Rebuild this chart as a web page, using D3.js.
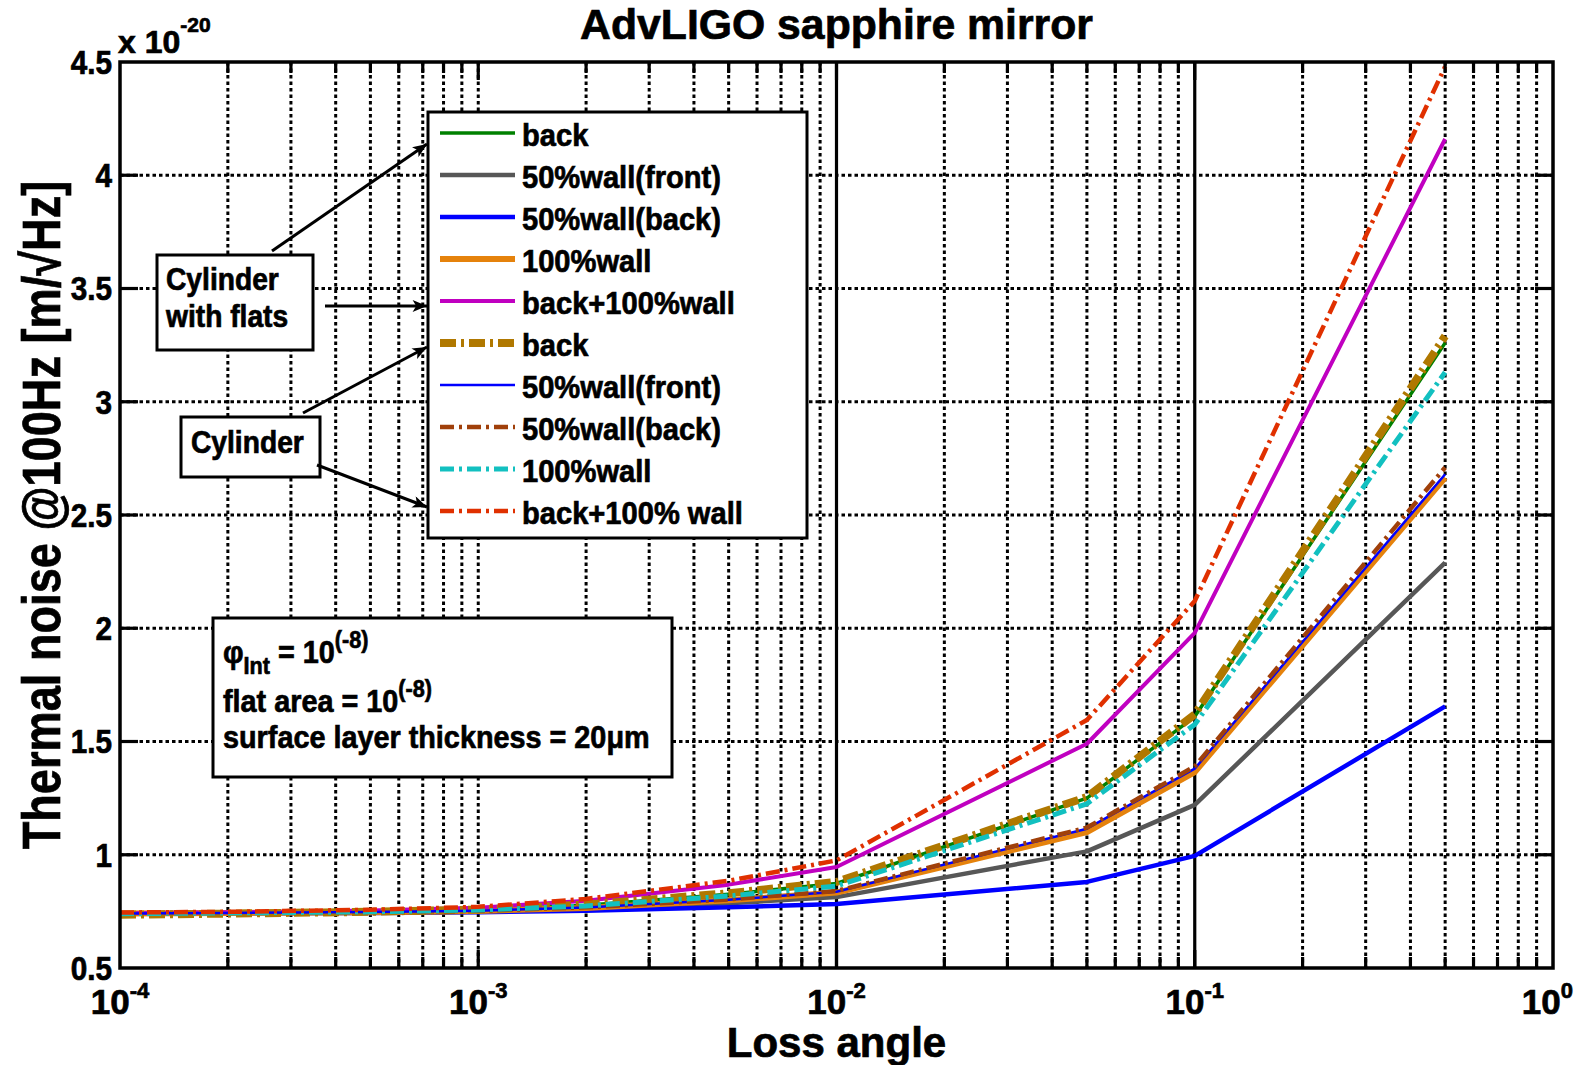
<!DOCTYPE html>
<html>
<head>
<meta charset="utf-8">
<title>AdvLIGO sapphire mirror</title>
<script src="https://cdn.jsdelivr.net/npm/d3@7"></script>
<style>
  html, body { margin: 0; padding: 0; background: #fff; }
  svg { display: block; font-family: "Liberation Sans", Arial, Helvetica, sans-serif; font-weight: bold; }
  svg text { stroke: #000; stroke-width: 0.7px; paint-order: stroke; }
</style>
</head>
<body>
<svg id="chart" width="1577" height="1065"></svg>
<script>
// Loss angle sample points shared by every curve
const lossAngle = [1e-4, 2e-4, 5e-4, 1e-3, 2e-3, 5e-3, 1e-2, 5e-2, 1e-1, 5e-1];

// Thermal noise @100Hz, units of 1e-20 m/√Hz — cylinder with flats
const flatsBack        = [0.742, 0.744, 0.749, 0.757, 0.777, 0.826, 0.873, 1.250, 1.610, 3.260];
const flats50WallFront = [0.741, 0.742, 0.745, 0.749, 0.760, 0.786, 0.813, 1.015, 1.220, 2.290];
const flats50WallBack  = [0.740, 0.741, 0.743, 0.746, 0.753, 0.768, 0.783, 0.880, 0.995, 1.655];
const flats100Wall     = [0.741, 0.743, 0.746, 0.752, 0.765, 0.799, 0.833, 1.100, 1.365, 2.665];
const flatsBack100Wall = [0.742, 0.746, 0.754, 0.766, 0.797, 0.868, 0.946, 1.490, 1.980, 4.160];

// Thermal noise @100Hz — plain cylinder
const cylBack          = [0.735, 0.740, 0.748, 0.758, 0.780, 0.830, 0.880, 1.255, 1.620, 3.290];
const cyl50WallFront   = [0.741, 0.743, 0.747, 0.753, 0.767, 0.801, 0.837, 1.115, 1.380, 2.680];
const cyl50WallBack    = [0.741, 0.743, 0.747, 0.753, 0.768, 0.803, 0.840, 1.120, 1.390, 2.710];
const cyl100Wall       = [0.740, 0.743, 0.748, 0.756, 0.774, 0.818, 0.862, 1.225, 1.575, 3.130];
const cylBack100Wall   = [0.745, 0.748, 0.757, 0.770, 0.805, 0.885, 0.975, 1.595, 2.120, 4.480];

const legendLabels = ["back", "50%wall(front)", "50%wall(back)", "100%wall", "back+100%wall",
                      "back", "50%wall(front)", "50%wall(back)", "100%wall", "back+100% wall"];

const yTickValues = [0.5, 1, 1.5, 2, 2.5, 3, 3.5, 4, 4.5];
const yTickLabels = ["0.5", "1", "1.5", "2", "2.5", "3", "3.5", "4", "4.5"];
const xDecades    = [1e-4, 1e-3, 1e-2, 1e-1, 1];
const xDecadeExp  = ["-4", "-3", "-2", "-1", "0"];

// Line styles, in plotting order
const DASHDOT = "14,5,3,5";
const series = [
  { values: flatsBack,        color: "#008000", width: 3.5, dash: null },
  { values: flats50WallFront, color: "#575757", width: 4.5, dash: null },
  { values: flats50WallBack,  color: "#0000ff", width: 4.5, dash: null },
  { values: flats100Wall,     color: "#e5820c", width: 6,   dash: null },
  { values: flatsBack100Wall, color: "#c000c0", width: 4,   dash: null },
  { values: cylBack,          color: "#b07800", width: 8,   dash: "16,5,3,5" },
  { values: cyl50WallFront,   color: "#0000ff", width: 2.5, dash: null },
  { values: cyl50WallBack,    color: "#a0400a", width: 4.5, dash: DASHDOT },
  { values: cyl100Wall,       color: "#12c0c0", width: 5,   dash: DASHDOT },
  { values: cylBack100Wall,   color: "#e03000", width: 4.5, dash: DASHDOT }
].map((s, i) => ({ ...s, label: legendLabels[i] }));

// Plot frame
const plot = { left: 120, right: 1553, top: 62, bottom: 968 };
const x = d3.scaleLog().domain([1e-4, 1]).range([plot.left, plot.right]);
const y = d3.scaleLinear().domain([0.5, 4.5]).range([plot.bottom, plot.top]);

const svg = d3.select("#chart");

// Arrow head for the annotation pointers
svg.append("defs").append("marker")
  .attr("id", "arrowHead")
  .attr("viewBox", "0 0 12 10")
  .attr("refX", 12).attr("refY", 5)
  .attr("markerWidth", 15).attr("markerHeight", 12)
  .attr("markerUnits", "userSpaceOnUse")
  .attr("orient", "auto")
  .append("path").attr("d", "M0,0 L12,5 L0,10 L3,5 Z").attr("fill", "#000");

// ---- grid ----
const isDecade = v => Math.abs(Math.log10(v) - Math.round(Math.log10(v))) < 1e-9;
const solidDecades = [1e-2, 1e-1];
const isSolid = d => solidDecades.some(s => Math.abs(s - d) / s < 1e-6);
const xTicksAll = x.ticks().filter(v => v > 1e-4 * 1.0001 && v < 0.9999);

const grid = svg.append("g").attr("class", "grid");
grid.selectAll("line.vgrid")
  .data(xTicksAll)
  .join("line")
  .attr("x1", d => x(d)).attr("x2", d => x(d))
  .attr("y1", plot.top).attr("y2", plot.bottom)
  .attr("stroke", "#000")
  .attr("stroke-width", d => isSolid(d) ? 3.2 : 3)
  .attr("stroke-dasharray", d => isSolid(d) ? null : "3.5,3");

grid.selectAll("line.hgrid")
  .data(yTickValues.filter(v => v > 0.5 && v < 4.5))
  .join("line")
  .attr("x1", plot.left).attr("x2", plot.right)
  .attr("y1", d => y(d)).attr("y2", d => y(d))
  .attr("stroke", "#000").attr("stroke-width", 3)
  .attr("stroke-dasharray", "3.5,3");

// ---- curves ----
const line = d3.line()
  .x((d, i) => x(lossAngle[i]))
  .y(d => y(d));

svg.append("g").attr("class", "curves")
  .selectAll("path")
  .data(series)
  .join("path")
  .attr("d", d => line(d.values))
  .attr("fill", "none")
  .attr("stroke", d => d.color)
  .attr("stroke-width", d => d.width)
  .attr("stroke-dasharray", d => d.dash)
  .attr("stroke-linejoin", "round");

// ---- axes frame and ticks ----
const axes = svg.append("g").attr("class", "axes");
axes.append("rect")
  .attr("x", plot.left).attr("y", plot.top)
  .attr("width", plot.right - plot.left).attr("height", plot.bottom - plot.top)
  .attr("fill", "none").attr("stroke", "#000").attr("stroke-width", 3.5);

const majorLen = 18, minorLen = 11;
xTicksAll.forEach(v => {
  const len = isDecade(v) ? majorLen : minorLen;
  axes.append("line").attr("x1", x(v)).attr("x2", x(v))
    .attr("y1", plot.bottom).attr("y2", plot.bottom - len)
    .attr("stroke", "#000").attr("stroke-width", 3.2);
  axes.append("line").attr("x1", x(v)).attr("x2", x(v))
    .attr("y1", plot.top).attr("y2", plot.top + len)
    .attr("stroke", "#000").attr("stroke-width", 3.2);
});
yTickValues.filter(v => v > 0.5 && v < 4.5).forEach(v => {
  axes.append("line").attr("x1", plot.left).attr("x2", plot.left + majorLen)
    .attr("y1", y(v)).attr("y2", y(v)).attr("stroke", "#000").attr("stroke-width", 3.2);
  axes.append("line").attr("x1", plot.right - majorLen).attr("x2", plot.right)
    .attr("y1", y(v)).attr("y2", y(v)).attr("stroke", "#000").attr("stroke-width", 3.2);
});

// horizontal squeeze about an anchor, to get the narrow plot lettering
const squeeze = (sel, sx, ax) => sel.attr("transform", `translate(${ax},0) scale(${sx},1) translate(${-ax},0)`);

// y tick labels
yTickValues.forEach((v, i) => {
  const t = svg.append("text")
    .attr("x", 112).attr("y", y(v) + 12)
    .attr("text-anchor", "end").attr("font-size", 33)
    .text(yTickLabels[i]);
  squeeze(t, 0.9, 112);
});

// x tick labels: 10^n (the last one is kept inside the page edge)
xDecades.forEach((v, i) => {
  const last = i === xDecades.length - 1;
  const t = svg.append("text")
    .attr("x", last ? 1573 : x(v)).attr("y", 1014)
    .attr("text-anchor", last ? "end" : "middle").attr("font-size", 35);
  t.append("tspan").text("10");
  t.append("tspan").attr("font-size", 22).attr("dy", -16).text(xDecadeExp[i]);
});

// exponent multiplier above the y axis
const mult = svg.append("text").attr("x", 118).attr("y", 53).attr("font-size", 32);
mult.append("tspan").text("x 10");
mult.append("tspan").attr("font-size", 21).attr("dy", -21).text("-20");

// title and axis labels
const title = svg.append("text")
  .attr("x", 836.5).attr("y", 39).attr("text-anchor", "middle").attr("font-size", 42)
  .text("AdvLIGO sapphire mirror");
squeeze(title, 513 / title.node().getComputedTextLength(), 836.5);

svg.append("text")
  .attr("x", 836.5).attr("y", 1057).attr("text-anchor", "middle").attr("font-size", 42)
  .text("Loss angle");

const yLab = svg.append("text")
  .attr("text-anchor", "middle").attr("font-size", 54)
  .text("Thermal noise @100Hz [m/\u221AHz]");
const yLabScale = 669 / yLab.node().getComputedTextLength();
yLab.attr("transform", `translate(60,515) rotate(-90) scale(${yLabScale},1)`);

// ---- legend ----
const legend = svg.append("g").attr("class", "legend");
legend.append("rect")
  .attr("x", 428).attr("y", 112).attr("width", 379).attr("height", 426)
  .attr("fill", "#fff").attr("stroke", "#000").attr("stroke-width", 3);
series.forEach((s, i) => {
  const rowY = 133 + i * 42;
  legend.append("line")
    .attr("x1", 440).attr("x2", 515).attr("y1", rowY).attr("y2", rowY)
    .attr("stroke", s.color).attr("stroke-width", s.width)
    .attr("stroke-dasharray", s.dash);
  const t = legend.append("text")
    .attr("x", 522).attr("y", rowY + 13).attr("font-size", 32)
    .text(s.label);
  squeeze(t, 0.91, 522);
});

// ---- annotation boxes ----
const notes = svg.append("g").attr("class", "notes");
function noteBox(x0, y0, w, h) {
  notes.append("rect").attr("x", x0).attr("y", y0).attr("width", w).attr("height", h)
    .attr("fill", "#fff").attr("stroke", "#000").attr("stroke-width", 3);
}
function noteText(tx, ty, str, size) {
  const t = notes.append("text").attr("x", tx).attr("y", ty).attr("font-size", size).text(str);
  squeeze(t, 0.91, tx);
  return t;
}
noteBox(157, 255, 156, 95);
noteText(166, 290, "Cylinder", 31);
noteText(166, 327, "with flats", 31);
noteBox(181, 417, 139, 60);
noteText(191, 453, "Cylinder", 31);

// pointers from the boxes to the legend groups
const pointers = [
  [272, 251, 427, 144],
  [325, 306, 427, 306],
  [303, 413, 427, 347],
  [317, 465, 427, 507]
];
notes.selectAll("line.pointer")
  .data(pointers)
  .join("line")
  .attr("x1", d => d[0]).attr("y1", d => d[1])
  .attr("x2", d => d[2]).attr("y2", d => d[3])
  .attr("stroke", "#000").attr("stroke-width", 3)
  .attr("marker-end", "url(#arrowHead)");

// parameter box
noteBox(213, 618, 459, 159);
const info = notes.append("g");
const l1 = info.append("text").attr("x", 223).attr("y", 663).attr("font-size", 32);
l1.append("tspan").text("\u03C6");
l1.append("tspan").attr("font-size", 24).attr("dy", 11).text("Int");
l1.append("tspan").attr("dy", -11).text(" = 10");
l1.append("tspan").attr("font-size", 24).attr("dy", -15).text("(-8)");
const l2 = info.append("text").attr("x", 223).attr("y", 712).attr("font-size", 32);
l2.append("tspan").text("flat area = 10");
l2.append("tspan").attr("font-size", 24).attr("dy", -15).text("(-8)");
info.append("text").attr("x", 223).attr("y", 748).attr("font-size", 32)
  .text("surface layer thickness = 20\u03BCm");
squeeze(info, 0.9, 223);
</script>
</body>
</html>
